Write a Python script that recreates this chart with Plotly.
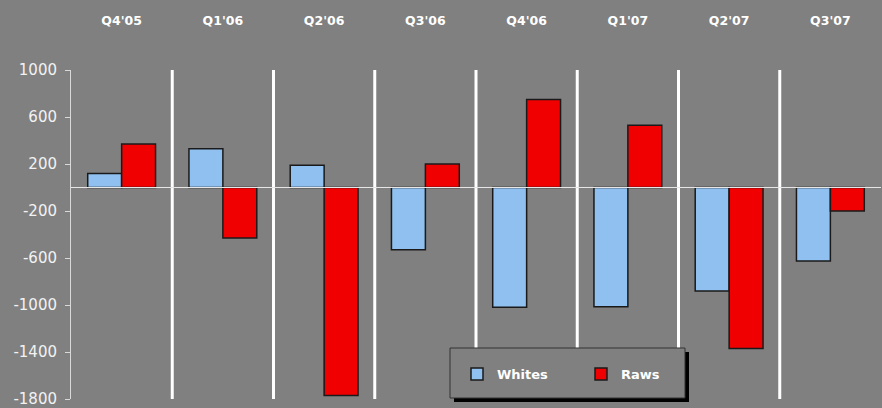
import plotly.graph_objects as go

quarters = ["Q4'05", "Q1'06", "Q2'06", "Q3'06", "Q4'06", "Q1'07", "Q2'07", "Q3'07"]
whites = [120, 330, 190, -530, -1020, -1015, -880, -625]
raws = [370, -430, -1770, 200, 750, 530, -1370, -200]
y_ticks = [1000, 600, 200, -200, -600, -1000, -1400, -1800]
y_tick_text = ["1000", "600", "200", "-200", "-600", "-1000", "-1400", "-1800"]

BG = "#808080"
TOP, BOT = 70, 399
H = BOT - TOP
fig = go.Figure()
fig.add_trace(go.Bar(x=quarters, y=whites, name="Whites",
                     marker=dict(color="#8fc0ef", line=dict(color="#1a1a1a", width=1.5))))
fig.add_trace(go.Bar(x=quarters, y=raws, name="Raws",
                     marker=dict(color="#f00000", line=dict(color="#1a1a1a", width=1.5))))

shapes = []
# separators between categories
for i in range(len(quarters) - 1):
    shapes.append(dict(type="line", xref="x", yref="paper", x0=i + 0.5, x1=i + 0.5,
                       y0=0, y1=1, line=dict(color="white", width=3), layer="below"))
# zero line above bars
shapes.append(dict(type="line", xref="paper", yref="y", x0=0, x1=1, y0=0, y1=0,
                   line=dict(color="#e6e6e6", width=1.2), layer="above"))
# legend shadow and box
shapes.append(dict(type="rect", xref="paper", yref="paper",
                   x0=(454 - 71) / 810, x1=(689 - 71) / 810,
                   y0=(BOT - 402) / H, y1=(BOT - 352) / H,
                   fillcolor="black", line=dict(width=0), layer="above"))
shapes.append(dict(type="rect", xref="paper", yref="paper",
                   x0=(450 - 71) / 810, x1=(685 - 71) / 810,
                   y0=(BOT - 398) / H, y1=(BOT - 348) / H,
                   fillcolor=BG, line=dict(color="#333333", width=1), layer="above"))

fig.update_layout(
    width=882, height=408,
    paper_bgcolor=BG, plot_bgcolor=BG,
    margin=dict(l=71, r=1, t=TOP, b=408 - BOT, autoexpand=False),
    barmode="group", bargap=0.33, bargroupgap=0,
    shapes=shapes,
    showlegend=True,
    legend=dict(orientation="h", x=(457 - 71) / 810, y=(BOT - 374) / H,
                xanchor="left", yanchor="middle",
                bgcolor="rgba(0,0,0,0)", borderwidth=0,
                font=dict(family="DejaVu Sans", size=13, color="white", weight="bold"),
                entrywidth=79, entrywidthmode="pixels"),
    xaxis=dict(side="top", showgrid=False, zeroline=False, showline=False,
               ticks="", ticklabelstandoff=42, automargin=False,
               tickfont=dict(family="DejaVu Sans", size=12.5, color="white", weight="bold")),
    yaxis=dict(range=[-1800, 1000], tickvals=y_ticks, ticktext=y_tick_text,
               showgrid=False, zeroline=False, automargin=False,
               showline=True, linecolor="#d9d9d9", linewidth=1,
               ticks="outside", ticklen=5, tickcolor="#d9d9d9",
               ticklabelstandoff=5, ticklabeloverflow="allow",
               tickfont=dict(family="DejaVu Sans", size=15, color="#f2f2f2")),
    font=dict(family="DejaVu Sans", color="white"),
)

fig.write_html("out.html")
